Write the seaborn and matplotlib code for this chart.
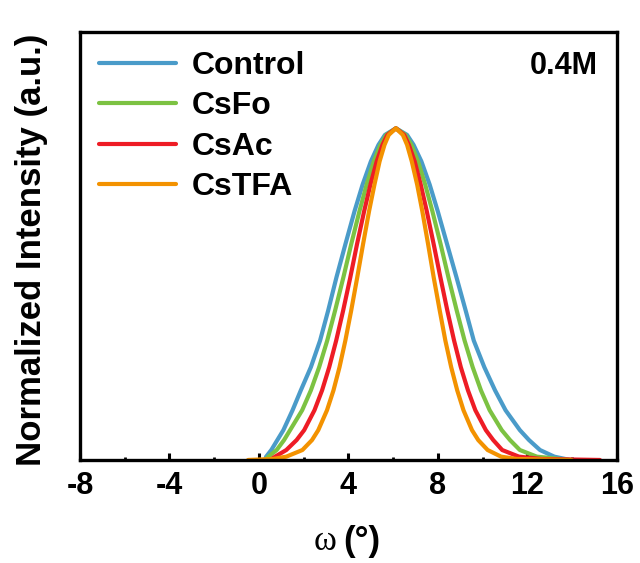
import numpy as np
import pandas as pd
import matplotlib
import seaborn as sns
import matplotlib.pyplot as plt

matplotlib.use("Agg")
from matplotlib.ticker import MultipleLocator

# points: omega (deg) vs normalized intensity
peak_y = [0.0, 0.01, 0.03, 0.06, 0.09, 0.15, 0.21, 0.28, 0.36, 0.45, 0.55, 0.65,
          0.75, 0.83, 0.90, 0.95, 0.98, 1.0, 0.98, 0.95, 0.90, 0.83, 0.75, 0.65,
          0.55, 0.45, 0.36, 0.28, 0.21, 0.15, 0.09, 0.06, 0.03, 0.01, 0.0]

control_x = [0.27, 0.32, 0.55, 0.82, 1.09, 1.50, 1.87, 2.32, 2.73, 3.09, 3.46, 3.86,
             4.27, 4.63, 5.00, 5.34, 5.63, 6.12, 6.62, 6.91, 7.26, 7.63, 7.99, 8.41,
             8.83, 9.24, 9.60, 10.07, 10.55, 11.02, 11.66, 12.07, 12.56, 13.20, 13.90]
control_y = peak_y

csfo_x = [0.27, 0.42, 0.79, 1.12, 1.39, 1.93, 2.32, 2.69, 3.05, 3.40, 3.77, 4.12,
          4.49, 4.81, 5.13, 5.43, 5.69, 6.12, 6.55, 6.81, 7.11, 7.43, 7.75, 8.12,
          8.47, 8.84, 9.19, 9.55, 9.92, 10.31, 10.85, 11.22, 11.66, 12.42, 13.90]
csfo_y = peak_y

csac_x = [0.50, 0.72, 1.22, 1.68, 2.02, 2.48, 2.82, 3.14, 3.45, 3.76, 4.08, 4.38,
          4.70, 4.98, 5.26, 5.52, 5.74, 6.12, 6.49, 6.70, 6.96, 7.23, 7.50, 7.81,
          8.11, 8.42, 8.72, 9.02, 9.34, 9.67, 10.14, 10.47, 10.87, 11.62, 12.62, 15.24]
csac_y = [0.0, 0.01, 0.03, 0.06, 0.09, 0.15, 0.21, 0.28, 0.36, 0.45, 0.55, 0.65,
          0.75, 0.83, 0.90, 0.95, 0.98, 1.0, 0.98, 0.95, 0.90, 0.83, 0.75, 0.65,
          0.55, 0.45, 0.36, 0.28, 0.21, 0.15, 0.09, 0.06, 0.03, 0.01, 0.003, 0.0]

cstfa_x = [-0.49, 0.62, 1.22, 1.94, 2.37, 2.65, 3.04, 3.33, 3.60, 3.86, 4.12, 4.39,
           4.65, 4.92, 5.16, 5.39, 5.61, 5.80, 6.12, 6.43, 6.62, 6.83, 7.07, 7.30,
           7.56, 7.81, 8.08, 8.33, 8.59, 8.86, 9.14, 9.52, 9.80, 10.22, 10.82, 11.52, 13.97]
cstfa_y = [0.0, 0.003, 0.01, 0.03, 0.06, 0.09, 0.15, 0.21, 0.28, 0.36, 0.45, 0.55,
           0.65, 0.75, 0.83, 0.90, 0.95, 0.98, 1.0, 0.98, 0.95, 0.90, 0.83, 0.75,
           0.65, 0.55, 0.45, 0.36, 0.28, 0.21, 0.15, 0.09, 0.06, 0.03, 0.01, 0.003, 0.0]

labels = ["Control", "CsFo", "CsAc", "CsTFA"]
colors = ["#4a9bc9", "#7cc242", "#ee1c25", "#f39200"]
xticks = [-8, -4, 0, 4, 8, 12, 16]

series = [(control_x, control_y), (csfo_x, csfo_y), (csac_x, csac_y), (cstfa_x, cstfa_y)]
frames = []
for name, (xs, ys) in zip(labels, series):
    frames.append(pd.DataFrame({"omega": xs, "intensity": ys, "sample": name}))
df = pd.concat(frames, ignore_index=True)

sns.set_style("white")
plt.rcParams["font.family"] = ["Liberation Sans", "DejaVu Sans"]
plt.rcParams["font.weight"] = "bold"
plt.rcParams["text.color"] = "black"
plt.rcParams["axes.labelcolor"] = "black"
plt.rcParams["xtick.color"] = "black"
plt.rcParams["ytick.color"] = "black"

fig = plt.figure(figsize=(6.4, 5.63), dpi=100)
ax = fig.add_axes([0.125, 0.183, 0.839, 0.76])

sns.lineplot(
    data=df,
    x="omega",
    y="intensity",
    hue="sample",
    hue_order=labels,
    palette=colors,
    estimator=None,
    sort=False,
    linewidth=3.0,
    ax=ax,
)

ax.set_xlim(-8, 16)
ax.set_ylim(0, 1.29)
ax.set_xticks(xticks)
ax.set_xticklabels([str(t) for t in xticks], fontsize=22, fontweight="bold")
ax.xaxis.set_minor_locator(MultipleLocator(2))
ax.set_yticks([])
ax.tick_params(axis="x", which="major", direction="in", length=5, width=2.2, pad=8,
               bottom=True, top=False, colors="black")
ax.tick_params(axis="x", which="minor", direction="in", length=2, width=2,
               bottom=True, top=False, colors="black")
for sp in ax.spines.values():
    sp.set_linewidth(2.4)
    sp.set_color("black")

# x label: omega in a serif face, unit in bold sans
ax.set_xlabel("")
ax.text(0.477, -0.19, "ω", transform=ax.transAxes, ha="right", va="center",
        fontsize=25, fontweight="normal", color="black",
        family=["Liberation Serif", "DejaVu Serif"])
ax.text(0.49, -0.19, "(°)", transform=ax.transAxes, ha="left", va="center",
        fontsize=25, fontweight="bold", color="black")

ax.set_ylabel("Normalized Intensity (a.u.)", fontsize=25, fontweight="bold", color="black")
ax.yaxis.set_label_coords(-0.06, 0.49)

leg = ax.legend(
    loc="upper left",
    frameon=False,
    handlelength=2.4,
    handletextpad=0.5,
    labelspacing=0.32,
    borderaxespad=0.2,
    prop={"weight": "bold", "size": 23},
)
for t in leg.get_texts():
    t.set_color("black")
ax.text(0.965, 0.921, "0.4M", transform=ax.transAxes, ha="right", va="center",
        fontsize=22, fontweight="bold", color="black")

plt.savefig("out.png", dpi=100)
plt.close()
